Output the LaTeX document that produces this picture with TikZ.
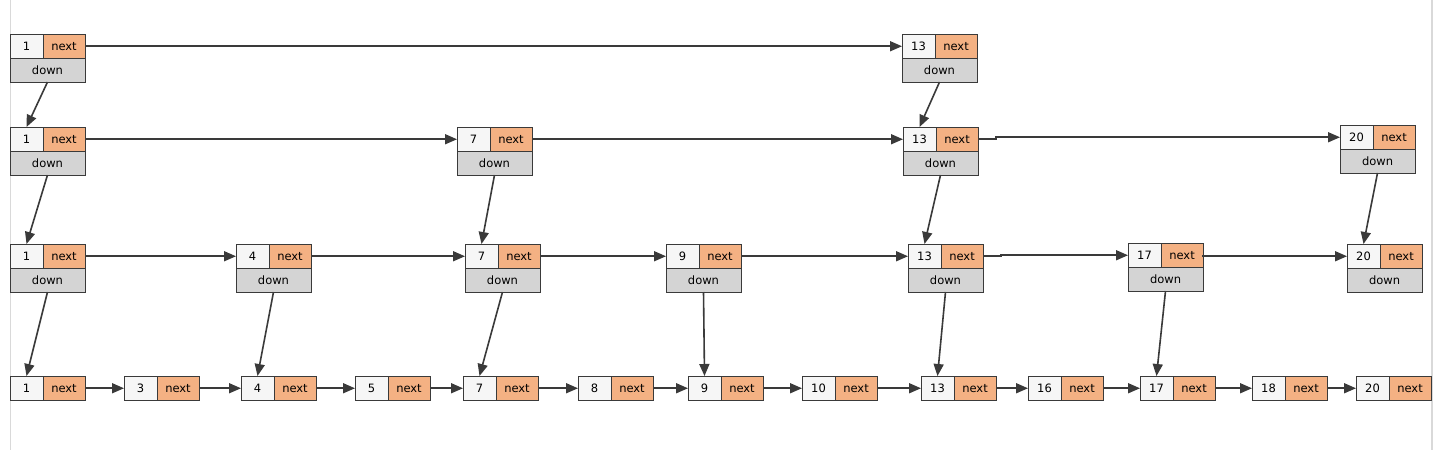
\documentclass[tikz,border=0pt]{standalone}
\usepackage{fontspec}
\setmainfont{DejaVu Sans}
\usetikzlibrary{arrows.meta}
\definecolor{nextorange}{HTML}{F4B183}
\definecolor{numgray}{HTML}{F6F6F6}
\definecolor{downgray}{HTML}{D4D4D4}
\definecolor{edgegray}{HTML}{3A3A3A}
\definecolor{framegray}{HTML}{D9D9D9}
\tikzset{
  cellbase/.style={draw=edgegray, line width=1pt, inner sep=0pt, outer sep=0pt, anchor=north west,
    font=\fontsize{11.5}{13}\selectfont, text=black},
  numcell/.style={cellbase, fill=numgray, minimum width=33pt, minimum height=24.5pt},
  nextcell/.style={cellbase, fill=nextorange, minimum width=42pt, minimum height=24.5pt},
  downcell/.style={cellbase, fill=downgray, minimum width=75pt, minimum height=23.5pt},
  link/.style={draw=edgegray, line width=1.6pt, -{Triangle[length=12pt,width=10pt]}},
}
\newcommand\slcell[4]{%
  \node[numcell] (#1n) at (#2,#3) {#4};
  \node[nextcell] (#1x) at (#1n.north east) {next};
}
\newcommand\slfull[4]{%
  \slcell{#1}{#2}{#3}{#4}
  \node[downcell] (#1d) at (#1n.south west) {down};
}
\begin{document}
\begin{tikzpicture}[x=1pt,y=-1pt]
\useasboundingbox (0,0) rectangle (1439,450);
\fill[white] (0,0) rectangle (1439,450);
\draw[framegray, line width=1.8pt] (10.5,0) -- (10.5,450);
\draw[framegray, line width=1.8pt] (1432,0) -- (1432,450);
% level 0
\slfull{a1}{10}{34}{1}
\slfull{a13}{902}{34}{13}
% level 1
\slfull{b1}{10}{127}{1}
\slfull{b7}{457}{127}{7}
\slfull{b13}{903}{127}{13}
\slfull{b20}{1340}{125}{20}
% level 2
\slfull{c1}{10}{244}{1}
\slfull{c4}{236}{244}{4}
\slfull{c7}{465}{244}{7}
\slfull{c9}{666}{244}{9}
\slfull{c13}{908}{244}{13}
\slfull{c17}{1128}{243}{17}
\slfull{c20}{1347}{244}{20}
% level 3
\slcell{d1}{10}{376}{1}
\slcell{d3}{124}{376}{3}
\slcell{d4}{241}{376}{4}
\slcell{d5}{355}{376}{5}
\slcell{d7}{463}{376}{7}
\slcell{d8}{578}{376}{8}
\slcell{d9}{688}{376}{9}
\slcell{d10}{802}{376}{10}
\slcell{d13}{921}{376}{13}
\slcell{d16}{1028}{376}{16}
\slcell{d17}{1140}{376}{17}
\slcell{d18}{1252}{376}{18}
\slcell{d20}{1356}{376}{20}
% horizontal links
\draw[link] (a1x.east) -- (a13n.west);
\draw[link] (b1x.east) -- (b7n.west);
\draw[link] (b7x.east) -- (b13n.west);
\draw[link] (b13x.east) -- ++(18,0) |- (b20n.west);
\draw[link] (c1x.east) -- (c4n.west);
\draw[link] (c4x.east) -- (c7n.west);
\draw[link] (c7x.east) -- (c9n.west);
\draw[link] (c9x.east) -- (c13n.west);
\draw[link] (c13x.east) -- ++(18,0) |- (c17n.west);
\draw[link] (c17x.east) -- ++(0,0) |- (c20n.west);
\foreach \p/\q in {d1/d3,d3/d4,d4/d5,d5/d7,d7/d8,d8/d9,d9/d10,d10/d13,d13/d16,d16/d17,d17/d18,d18/d20}
  \draw[link] (\p x.east) -- (\q n.west);
% down links
\foreach \p/\q in {a1/b1,a13/b13,b1/c1,b7/c7,b13/c13,b20/c20,c1/d1,c4/d4,c7/d7,c9/d9,c13/d13,c17/d17}
  \draw[link] (\p d.south) -- (\q n.north);
\end{tikzpicture}
\end{document}
